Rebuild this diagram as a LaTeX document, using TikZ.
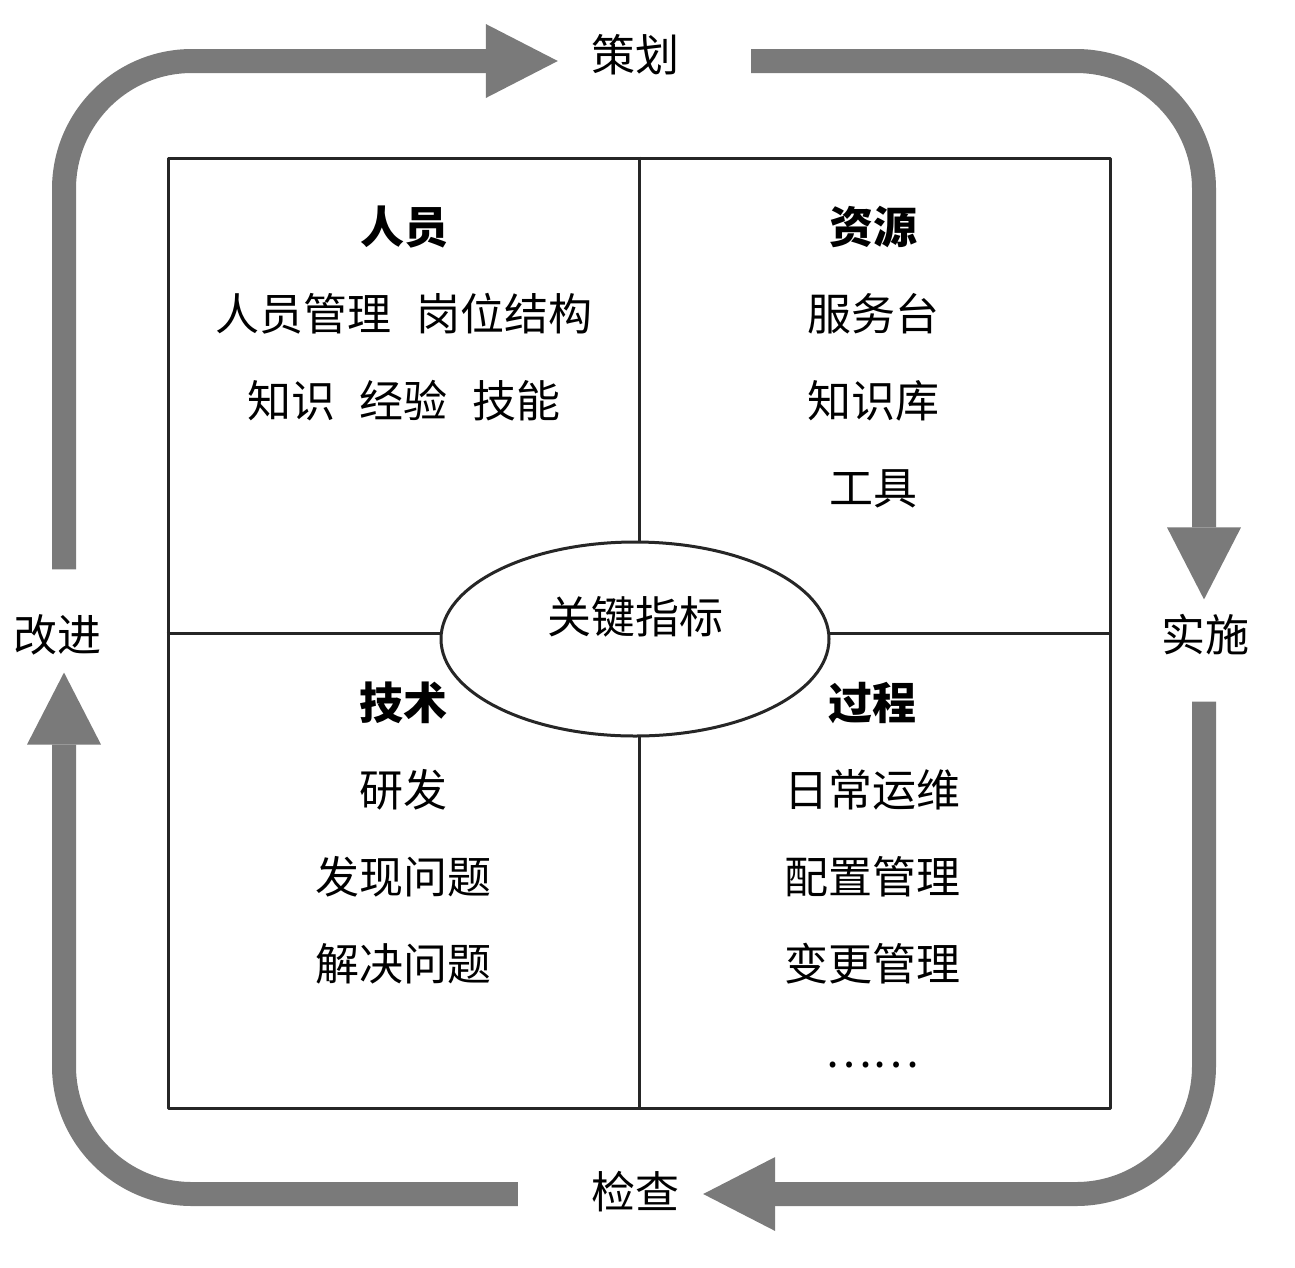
\documentclass[tikz,border=0pt]{standalone}
\usepackage{fontspec}
\setmainfont{Noto Sans CJK SC}
\usetikzlibrary{arrows.meta,shapes.geometric}
\tikzset{
  cycleband/.style={line width=24pt,draw=black!52,rounded corners=128pt,
    -{Triangle[width=74pt,length=72pt,line width=0pt]}},
  phase/.style={inner sep=0pt,font=\fontsize{44}{44}\selectfont},
  quad/.style={anchor=north,inner sep=0pt,align=center,font=\fontsize{44}{87}\selectfont},
  rule/.style={draw=black!85,line width=3pt}
}
\begin{document}
\begin{tikzpicture}[x=1pt,y=-1pt,line join=round]
\useasboundingbox (0,0) rectangle (1295,1267);
\def\gap{\hspace{0.55em}}
\coordinate (tl) at (64,61);
\coordinate (tr) at (1204,61);
\coordinate (br) at (1204,1194);
\coordinate (bl) at (64,1194);
\node[phase] (plan) at (635,55) {策划};
\node[phase] (impl) at (1205,635) {实施};
\node[phase] (check) at (635,1192) {检查};
\node[phase] (act) at (57,635) {改进};
\draw[cycleband,shorten <=45pt,shorten >=33pt] (tl |- act.north) -- (tl) -- (tl -| plan.west);
\draw[cycleband,shorten <=72pt,shorten >=15pt] (tr -| plan.east) -- (tr) -- (tr |- impl.north);
\draw[cycleband,shorten <=46pt,shorten >=24pt] (br |- impl.south) -- (br) -- (br -| check.east);
\draw[cycleband,shorten <=73pt,shorten >=17pt] (bl -| check.west) -- (bl) -- (bl |- act.south);
\node[rule,minimum width=942pt,minimum height=950pt,inner sep=0pt] (frame) at (639,633) {};
\draw[rule] (frame.north) -- (frame.south);
\draw[rule] (frame.west) -- (frame.east);
\node[rule,ellipse,fill=white,minimum width=388pt,minimum height=194pt] (kpi) at (635,639) {};
\node[phase] (kpitext) at ([yshift=22pt]kpi.center) {关键指标};
\node[quad] (people) at (404,206) {\textbf{人员}\\人员管理\gap 岗位结构\\知识\gap 经验\gap 技能};
\node[quad] (resource) at (873,206) {\textbf{资源}\\服务台\\知识库\\工具};
\node[quad] (tech) at (403,682) {\textbf{技术}\\研发\\发现问题\\解决问题};
\node[quad] (process) at (872,682) {\textbf{过程}\\日常运维\\配置管理\\变更管理\\……};
\end{tikzpicture}
\end{document}
